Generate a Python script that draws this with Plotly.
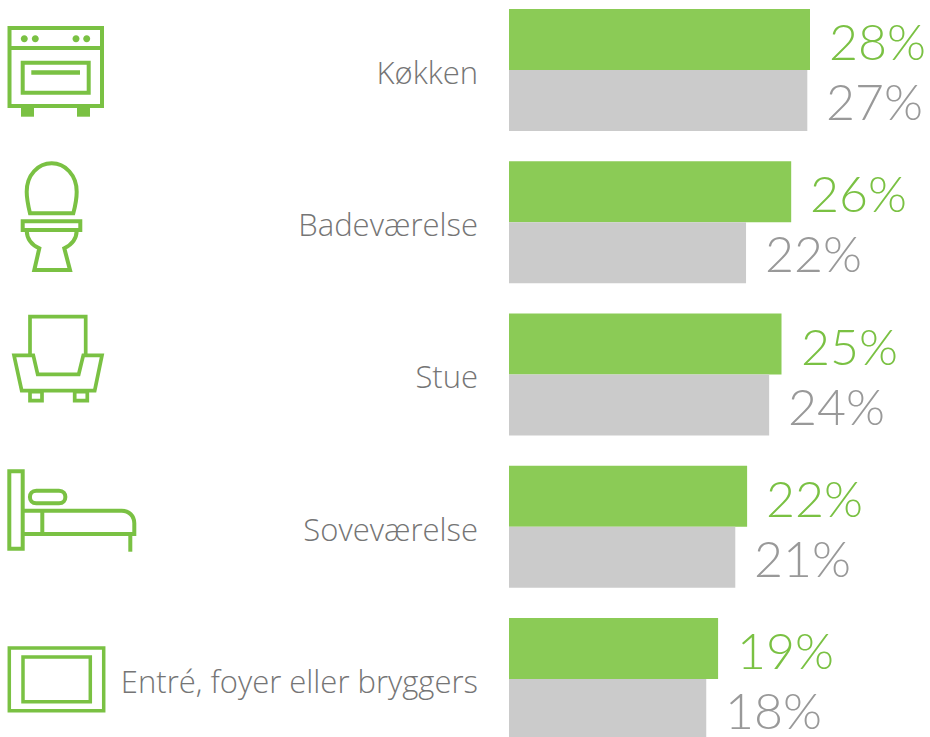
import re
import plotly.graph_objects as go

categories = ["Køkken", "Badeværelse", "Stue", "Soveværelse", "Entré, foyer eller bryggers"]
green_values = [28.0, 26.25, 25.35, 22.15, 19.45]
gray_values = [27.75, 22.05, 24.2, 21.05, 18.35]
green_labels = ["28%", "26%", "25%", "22%", "19%"]
gray_labels = ["27%", "22%", "24%", "21%", "18%"]

W, H = 930, 737
GREEN_BAR = "#8BCB56"
GRAY_BAR = "#CBCBCB"
ICON = "#7AC143"
GREEN_TXT = "#7AC143"
GRAY_TXT = "#999999"
LABEL = "#757575"
FONT = "Lato"
LABEL_FONT = "Open Sans"

fig = go.Figure()
fig.add_bar(y=categories, x=green_values, orientation="h", marker=dict(color=GREEN_BAR, line_width=0), name="A")
fig.add_bar(y=categories, x=gray_values, orientation="h", marker=dict(color=GRAY_BAR, line_width=0), name="B")

for cat, g, gl, c, cl in zip(categories, green_values, green_labels, gray_values, gray_labels):
    fig.add_annotation(x=g, y=cat, text=gl, showarrow=False, xanchor="left", yanchor="middle", xshift=17, yshift=29,
                       font=dict(family=FONT, size=50, color=GREEN_TXT, weight=300))
    fig.add_annotation(x=c, y=cat, text=cl, showarrow=False, xanchor="left", yanchor="middle", xshift=17, yshift=-31,
                       font=dict(family=FONT, size=50, color=GRAY_TXT, weight=300))


def P(d):
    """Pixel-space SVG path -> paper-space SVG path."""
    out, is_x = [], True
    for tok in re.findall(r"[A-Za-z]|-?\d+\.?\d*", d):
        if tok.isalpha():
            out.append(tok)
            is_x = True
        else:
            v = float(tok)
            out.append(f"{v / W:.5f}" if is_x else f"{1 - v / H:.5f}")
            is_x = not is_x
    return " ".join(out)


def stroke(d, w=4):
    fig.add_shape(type="path", xref="paper", yref="paper", path=P(d), line=dict(color=ICON, width=w), fillcolor="rgba(0,0,0,0)")


def fill(d):
    fig.add_shape(type="path", xref="paper", yref="paper", path=P(d), line=dict(color=ICON, width=0), fillcolor=ICON)


def rect(x0, y0, x1, y1):
    return f"M {x0} {y0} L {x1} {y0} L {x1} {y1} L {x0} {y1} Z"


def circle(cx, cy, r):
    k = r * 0.5523
    return (f"M {cx - r} {cy} C {cx - r} {cy - k} {cx - k} {cy - r} {cx} {cy - r} "
            f"C {cx + k} {cy - r} {cx + r} {cy - k} {cx + r} {cy} "
            f"C {cx + r} {cy + k} {cx + k} {cy + r} {cx} {cy + r} "
            f"C {cx - k} {cy + r} {cx - r} {cy + k} {cx - r} {cy} Z")


# oven
stroke(rect(9.5, 28, 102, 106))
stroke("M 9.5 48 L 102 48")
stroke(rect(22.7, 62.7, 88.7, 92.7))
fill(rect(31.3, 70.3, 80, 74.7))
fill(rect(21, 108, 34, 116.7))
fill(rect(77, 108, 90, 116.7))
for cx in (24.3, 35.3, 76, 86.7):
    fill(circle(cx, 38.7, 3.5))

# toilet
stroke("M 30 213.3 L 73.3 213.3 C 75.5 205 76.7 198 76.7 191.7 C 76.7 175 65 163.3 51.7 163.3 "
       "C 38 163.3 26.7 175 26.7 191.7 C 26.7 198 28 205 30 213.3 Z", 4)
stroke(rect(22.7, 221.3, 80.3, 230), 4)
stroke("M 26.7 230.7 C 27 240 32 245 39.3 248.3 L 34.3 270 L 70 270 L 64.3 248.3 C 71 245 76.5 240 76.7 230.7", 4)

# armchair
stroke("M 30 355 L 30 316.7 L 85.7 316.7 L 85.7 355", 3.7)
stroke("M 14 355.3 L 33.3 355.3 L 37.7 374.3 L 78.7 374.3 L 83.3 355.3 L 102 355.3 L 94.7 390.7 L 21.7 390.7 Z", 3.7)
stroke(rect(30, 391.7, 42, 400.7), 3.7)
stroke(rect(74.7, 391.7, 87.3, 400.7), 3.7)

# bed
stroke(rect(9.3, 471.3, 22.7, 548.7), 4)
stroke("M 36.3 490.7 L 59 490.7 C 67.5 490.7 67.5 503.3 59 503.3 L 36.3 503.3 C 27.8 503.3 27.8 490.7 36.3 490.7 Z", 4)
stroke("M 22.7 510.7 L 121.7 510.7 C 129 510.7 134.3 516 134.3 523.3 L 134.3 534 L 22.7 534", 4)
stroke("M 42.3 510.7 L 42.3 534", 4)
stroke("M 130.3 534 L 130.3 551.7", 4)

# frame
stroke(rect(9.3, 648, 103.7, 710.7), 3.5)
stroke(rect(23, 657, 90.3, 701.7), 3.5)

PX_PER_UNIT = 10.75
fig.update_layout(
    width=W, height=H, autosize=False,
    margin=dict(l=0, r=0, t=0, b=0, pad=0),
    paper_bgcolor="white", plot_bgcolor="white",
    barmode="group", bargap=0.2, bargroupgap=0,
    showlegend=False,
    xaxis=dict(domain=[509 / W, 1], range=[0, (W - 509) / PX_PER_UNIT], visible=False, fixedrange=True),
    yaxis=dict(type="category", range=[(H - 70) / 152.25, -70 / 152.25], categoryorder="array", categoryarray=categories,
               anchor="x", showline=False, showgrid=False, zeroline=False, ticks="", ticklabelstandoff=30,
               ticklabelshift=-3,
               tickfont=dict(family=LABEL_FONT, size=31, color=LABEL, weight=300), automargin=False),
)
fig.write_html("out.html", config=dict(displayModeBar=False), post_script="document.body.style.margin='0';")
